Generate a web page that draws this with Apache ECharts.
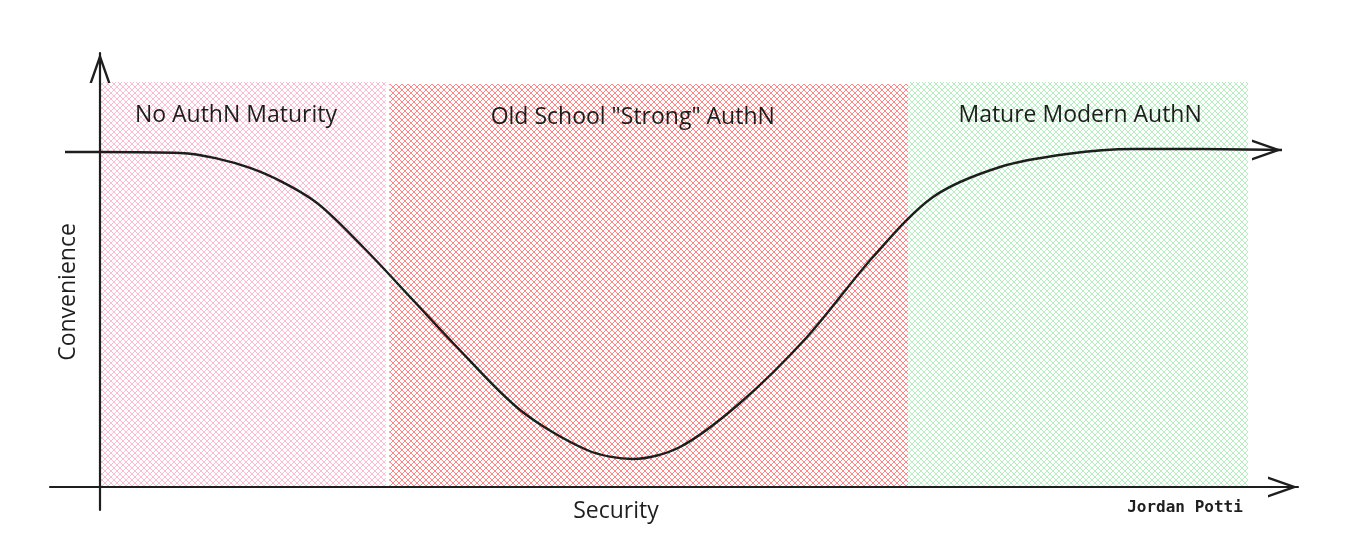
<!DOCTYPE html>
<html><head><meta charset="utf-8">
<script src="https://cdn.jsdelivr.net/npm/echarts@6/dist/echarts.min.js"></script>
<style>html,body{margin:0;padding:0;background:#fff}#c{width:1360px;height:560px}</style>
</head><body><div id="c"></div>
<script>
// Security (x): 0 = vertical axis, 100 = right end of the zones
// Convenience (y): 0 = horizontal axis, 100 = top of the zones
const curveX = [-3.05, 0, 6.97, 13.07, 18.55, 22.91, 27.26, 30.75, 36.59, 42.42, 46.43, 50.52, 55.75, 61.59, 67.33, 72.56, 78.40, 84.23, 89.98, 95.82, 102.96];
const curveY = [82.72, 82.72, 82.47, 78.77, 70.86, 59.26, 46.17, 35.56, 19.01, 9.14, 6.91, 9.88, 20.74, 37.04, 56.79, 71.60, 79.01, 82.22, 83.46, 83.46, 83.21];
const zoneNames = ['No AuthN Maturity', 'Old School "Strong" AuthN', 'Mature Modern AuthN'];
const zoneStart = [0, 25.2, 70.4];
const zoneEnd = [24.9, 70.4, 100];
const zoneTop = [100, 99.5, 100];
const xTitle = 'Security';
const yTitle = 'Convenience';
const credit = 'Jordan Potti';

const zoneColors = ['#fbbcd2', '#ff8585', '#b6efbf'];
const labelShift = [-7, -16, 2];
const ink = '#1e1e1e';
const font = '"Open Sans", "Noto Sans", sans-serif';

function hatch(color) {
  const s = 6, c = document.createElement('canvas');
  c.width = s; c.height = s;
  const g = c.getContext('2d');
  g.strokeStyle = color; g.lineWidth = 1;
  g.beginPath();
  g.moveTo(0, 0); g.lineTo(s, s);
  g.moveTo(s, 0); g.lineTo(0, s);
  g.stroke();
  return { image: c, repeat: 'repeat' };
}

const upChevron = 'path://M10.5,0 L21,30 L18.5,30 L10.5,7.2 L2.5,30 L0,30 Z';
const rightChevron = 'path://M30,10.5 L0,21 L0,18.5 L22.8,10.5 L0,2.5 L0,0 Z';

const zones = zoneNames.map((n, i) => [
  { coord: [zoneStart[i], 0], name: n, itemStyle: { color: hatch(zoneColors[i]) },
    label: { offset: [labelShift[i], 0] } },
  { coord: [zoneEnd[i], zoneTop[i]] }
]);

function axis(extra) {
  return Object.assign({
    type: 'value',
    z: 20,
    axisTick: { show: false },
    axisLabel: { show: false },
    splitLine: { show: false },
    axisLine: {
      show: true, onZero: true,
      lineStyle: { color: ink, width: 2.2 },
      symbol: ['none', upChevron],
      symbolSize: [21, 30],
      symbolOffset: [0, -15]
    }
  }, extra);
}

const chart = echarts.init(document.getElementById('c'));
chart.setOption({
  animation: false,
  backgroundColor: '#ffffff',
  grid: { left: 50, right: 62, top: 53, bottom: 50 },
  xAxis: axis({ min: -4.355, max: 104.355 }),
  yAxis: axis({ min: -5.68, max: 107.16 }),
  series: [
    {
      type: 'line',
      data: curveX.map((x, i) => [x, curveY[i]]),
      smooth: 0.3,
      symbol: 'none',
      silent: true,
      z: 5,
      lineStyle: { color: ink, width: 2.4 },
      markArea: {
        silent: true,
        label: {
          show: true, position: 'insideTop', distance: 22,
          color: ink, fontSize: 23, fontFamily: font
        },
        data: zones
      }
    },
    {
      type: 'scatter',
      silent: true,
      z: 6,
      data: [[curveX[curveX.length - 1], curveY[curveY.length - 1]]],
      symbol: rightChevron,
      symbolSize: [30, 21],
      symbolOffset: [-15, 0],
      itemStyle: { color: ink, opacity: 1 }
    }
  ],
  graphic: [
    { type: 'text', x: 616, y: 511, silent: true,
      style: { text: xTitle, fill: ink, font: '23px ' + font, align: 'center', verticalAlign: 'middle' } },
    { type: 'text', x: 68, y: 292, rotation: Math.PI / 2, silent: true,
      style: { text: yTitle, fill: ink, font: '23px ' + font, align: 'center', verticalAlign: 'middle' } },
    { type: 'text', x: 1185, y: 508, silent: true,
      style: { text: credit, fill: ink, font: 'bold 16px "DejaVu Sans Mono", monospace', align: 'center', verticalAlign: 'middle' } }
  ]
});
</script>
</body></html>
